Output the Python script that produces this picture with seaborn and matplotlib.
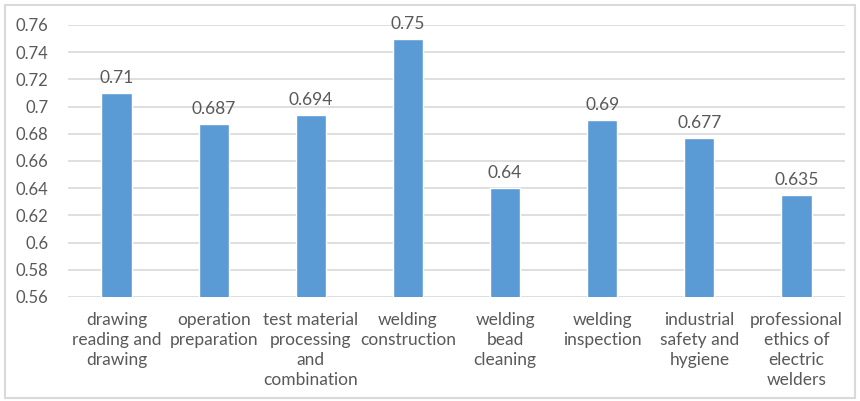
import matplotlib
matplotlib.use("Agg")
import matplotlib.pyplot as plt
import seaborn as sns
import pandas as pd
from matplotlib.patches import Rectangle

categories = [
    "drawing\nreading and\ndrawing",
    "operation\npreparation",
    "test material\nprocessing\nand\ncombination",
    "welding\nconstruction",
    "welding\nbead\ncleaning",
    "welding\ninspection",
    "industrial\nsafety and\nhygiene",
    "professional\nethics of\nelectric\nwelders",
]
values = [0.71, 0.687, 0.694, 0.75, 0.64, 0.69, 0.677, 0.635]
value_labels = ["0.71", "0.687", "0.694", "0.75", "0.64", "0.69", "0.677", "0.635"]
y_ticks = [0.56, 0.58, 0.60, 0.62, 0.64, 0.66, 0.68, 0.70, 0.72, 0.74, 0.76]
y_tick_labels = ["0.56", "0.58", "0.6", "0.62", "0.64", "0.66", "0.68", "0.7", "0.72", "0.74", "0.76"]

sns.set_theme(style="white")
plt.rcParams["font.family"] = ["Lato", "DejaVu Sans"]

text_color = "#595959"
grid_color = "#D9D9D9"
bar_color = "#5B9BD5"

df = pd.DataFrame({"category": categories, "value": values})

fig = plt.figure(figsize=(8.6, 4.01), dpi=100)
ax = fig.add_axes([0.079, 0.2594, 0.9036, 0.6783])

sns.barplot(data=df, x="category", y="value", color=bar_color, width=0.31,
            saturation=1, ax=ax, zorder=3)

ax.set_ylim(0.56, 0.76)
ax.set_yticks(y_ticks)
ax.set_yticklabels(y_tick_labels)
ax.set_xlim(-0.5, len(categories) - 0.5)
ax.yaxis.grid(True, color=grid_color, linewidth=1.2, zorder=0)
ax.set_axisbelow(True)
for s in ax.spines.values():
    s.set_visible(False)
ax.tick_params(axis="both", length=0, colors=text_color)
ax.tick_params(axis="y", pad=14, labelsize=12)
ax.tick_params(axis="x", pad=11, labelsize=12.5)
for lbl in ax.get_xticklabels():
    lbl.set_linespacing(1.3)
ax.set_xlabel("")
ax.set_ylabel("")

ax.bar_label(ax.containers[0], labels=value_labels, padding=5,
             color=text_color, fontsize=12.5)

fig.add_artist(Rectangle((0.006, 0.008), 0.988, 0.98, transform=fig.transFigure,
                         fill=False, edgecolor=grid_color, linewidth=1.5))

fig.savefig("out.png", dpi=100)
